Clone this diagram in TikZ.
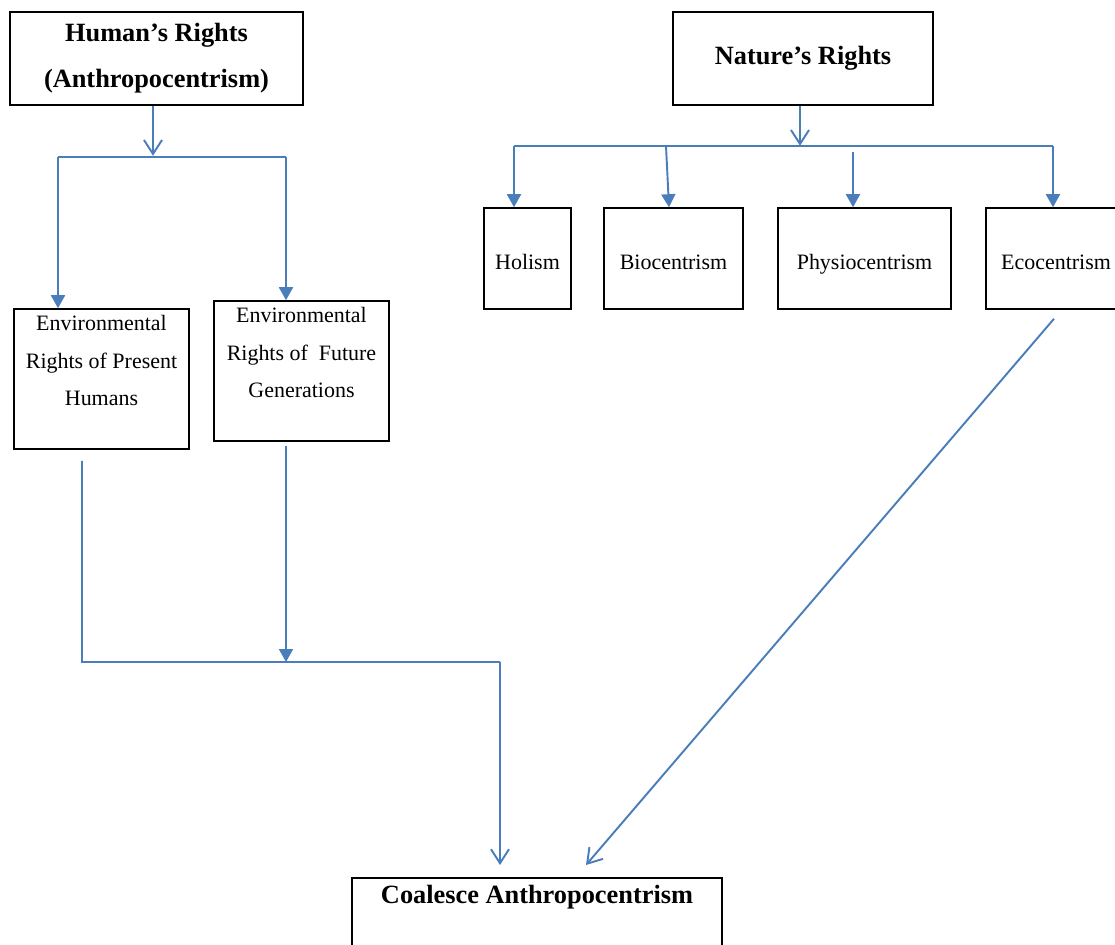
\documentclass[tikz,border=0pt]{standalone}
\usepackage{fontspec}
\setmainfont{Liberation Serif}
\usepackage{tikz}
\usetikzlibrary{arrows.meta,positioning,calc}
\definecolor{linkblue}{RGB}{74,126,187}

\begin{document}
\begin{tikzpicture}[
    x=0.02cm, y=-0.02cm,
    box/.style={draw, line width=0.9pt, align=center, inner sep=2pt,
                font=\fontsize{12.5}{21.5}\selectfont},
    textbox/.style={box, inner ysep=0pt, minimum width=3.5cm, minimum height=2.8cm},
    kindbox/.style={box, minimum height=2.02cm, text height=12pt, text depth=0pt},
    headbox/.style={box, font=\fontsize{15}{26}\selectfont\bfseries},
    link/.style={draw=linkblue, line width=1.1pt},
    openarrow/.style={link, -{Straight Barb[length=2.8mm,width=3.6mm]}},
    fillarrow/.style={link, -{Triangle[length=2.6mm,width=2.8mm]}},
]
\useasboundingbox (0,0) rectangle (1115,945);
\clip (0,0) rectangle (1115,945);

% ─────────────────────────────────────────
% LEFT: Human's Rights
% ─────────────────────────────────────────
\node[headbox, minimum width=5.86cm, minimum height=1.86cm] (human) at (156.5,58.5)
    {Human’s Rights\\(Anthropocentrism)};

\node[textbox] (present) at (101.5,379)
    {Environmental\\Rights of Present\\Humans\\[-7pt]\strut};
\node[textbox] (future) at (301.5,371)
    {Environmental\\Rights of\ \ Future\\Generations\\[-7pt]\strut};

\coordinate (hsplitl) at (58,157);
\coordinate (hsplitr) at (286,157);
\draw[openarrow] ([xshift=-0.07cm]human.south) -- ++(0,50);
\draw[link] (hsplitl) -- (hsplitr);
\draw[fillarrow] (hsplitl) -- (hsplitl |- present.north);
\draw[fillarrow] (hsplitr) -- (hsplitr |- future.north);

% ─────────────────────────────────────────
% RIGHT: Nature's Rights
% ─────────────────────────────────────────
\node[headbox, minimum width=5.2cm, minimum height=1.86cm] (nature) at (803,58.5)
    {Nature’s Rights};

\node[kindbox, minimum width=1.74cm] (holism) at (527.5,258.5) {Holism};
\node[kindbox, minimum width=2.78cm] (bio) at (673.5,258.5) {Biocentrism};
\node[kindbox, minimum width=3.46cm] (physio) at (864.5,258.5) {Physiocentrism};
\node[kindbox, minimum width=2.8cm] (eco) at (1056,258.5) {Ecocentrism};

\coordinate (nsplitl) at (514,146);
\coordinate (nsplitr) at (1053,146);
\coordinate (biotop) at (666,146);
\coordinate (physiotop) at (853,152);
\draw[openarrow] ([xshift=-0.06cm]nature.south) -- ++(0,40);
\draw[link] (nsplitl) -- (nsplitr);
\draw[fillarrow] (nsplitl) -- (nsplitl |- holism.north);
\draw[fillarrow] (biotop) -- ([xshift=-0.09cm]bio.north);
\draw[fillarrow] (physiotop) -- (physiotop |- physio.north);
\draw[fillarrow] (nsplitr) -- (nsplitr |- eco.north);

% ─────────────────────────────────────────
% BOTTOM: Coalesce Anthropocentrism
% ─────────────────────────────────────────
\node[headbox, anchor=north, minimum width=7.4cm, inner ysep=4pt, text depth=2cm] (coal) at (537,877)
    {Coalesce Anthropocentrism};

\coordinate (bendl) at (82,662);
\coordinate (merge) at (500,662);
\draw[link] ([xshift=-0.39cm,yshift=-0.22cm]present.south) -- (bendl) -- (merge);
\draw[openarrow] (merge) -- ([xshift=-0.74cm,yshift=0.24cm]coal.north);
\draw[fillarrow] ([xshift=-0.31cm,yshift=-0.08cm]future.south) -- ([xshift=-0.31cm]future.south |- bendl);
\draw[openarrow] ([xshift=-0.04cm,yshift=-0.18cm]eco.south) -- ([xshift=0.98cm,yshift=0.24cm]coal.north);

\end{tikzpicture}
\end{document}
